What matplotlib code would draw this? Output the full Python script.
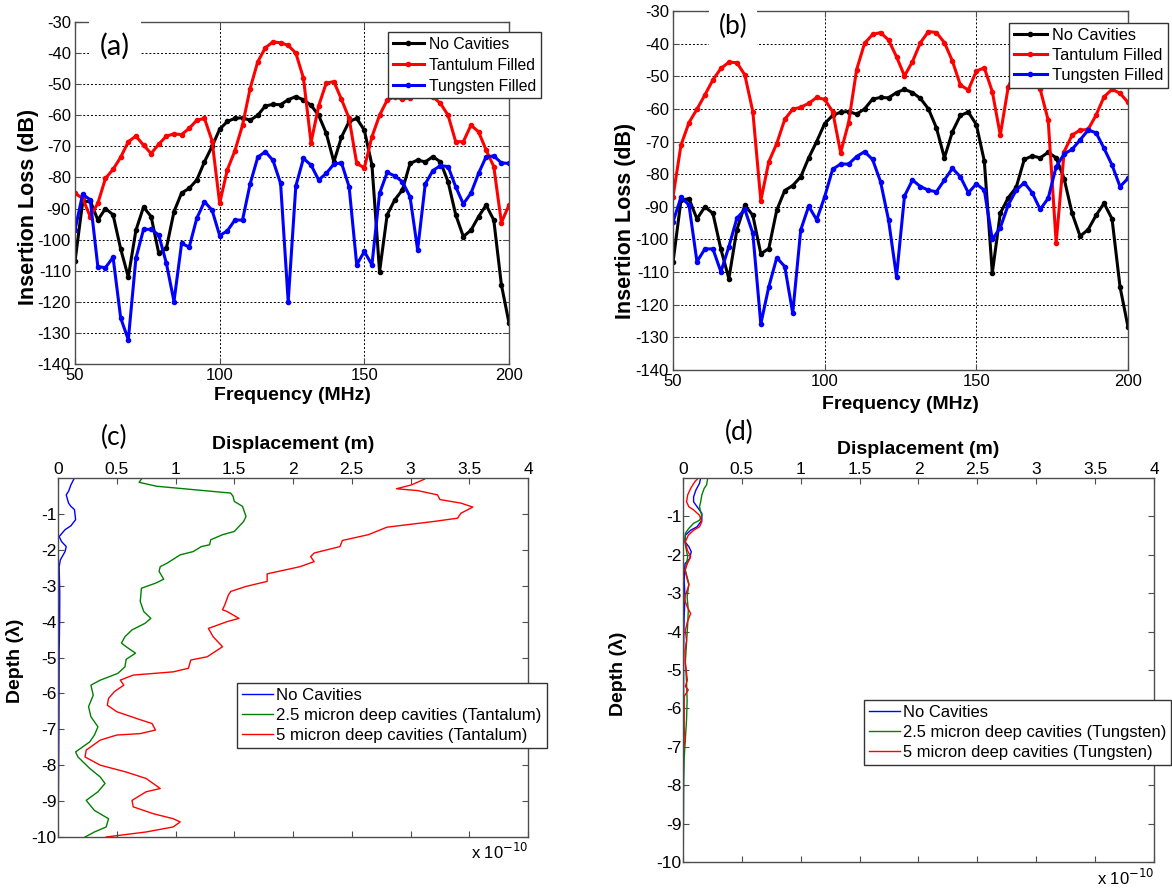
import numpy as np
import matplotlib
matplotlib.use('Agg')
import matplotlib.pyplot as plt

plt.rcParams['font.family'] = ['Liberation Sans', 'DejaVu Sans']
plt.rcParams['axes.unicode_minus'] = False

# Frequency sweep, 50-200 MHz, 58 points
freq = np.linspace(50, 200, 58)

# insertion loss (dB) - no cavities (same in both top panels)
loss_none = [-107, -88, -87.5, -93.7, -90, -92, -103, -112, -97, -89.5,
             -92.6, -104.4, -102.8, -91, -85, -83.5, -80.8, -75, -70, -64.5,
             -62, -61, -60.8, -61.6, -60, -57, -56.5, -56.6, -55, -54,
             -55, -56.8, -60, -65.8, -75, -67, -62, -61, -64.8, -76,
             -110.3, -92, -87.2, -84, -75.5, -74.4, -75, -73.3, -75, -81.4,
             -92, -99, -97, -92.6, -88.9, -93.7, -114.5, -126.8]

# (a) tantalum / tungsten filled
loss_ta_a = [-85.1, -86.7, -92.6, -88.3, -80.3, -77.4, -73.5, -68.5, -66.7, -69.6,
             -72.3, -69.3, -66.7, -66, -66.2, -64.2, -61.6, -61, -68.2, -88.3,
             -77.6, -71.4, -63.2, -51.4, -42.8, -38.3, -36.4, -36.7, -37.5, -40,
             -48, -68.8, -57, -49.6, -49.2, -54.9, -61, -75.5, -76.9, -66.9,
             -60, -55.1, -54.1, -54.8, -54.4, -52, -52, -54, -56.2, -60,
             -68.5, -68.5, -63.2, -65.3, -71.2, -76.5, -94.5, -88.9]
loss_w_a = [-96.9, -85.4, -87.2, -108.7, -109, -105.7, -125.2, -132.2, -106, -96.7,
            -96.7, -98.5, -107.6, -119.9, -101.2, -102.4, -93.1, -87.8, -90.5, -98.7,
            -97.2, -93.7, -93.7, -82.1, -73.5, -71.7, -74.5, -81.9, -119.9, -82.8,
            -73.9, -76, -80.8, -78.7, -75.7, -75.3, -83, -108.1, -103.8, -108.1,
            -85.1, -78.4, -79.5, -81.4, -86.2, -103.3, -82.1, -77.8, -76.2, -76.5,
            -83, -88.5, -85.1, -78.7, -73.3, -73.1, -75.3, -75.5]

# (b) tantalum / tungsten filled
loss_ta_b = [-86.9, -71.1, -64.2, -60.1, -55.7, -51.1, -47.6, -45.7, -45.8, -49.6,
             -60.8, -88.1, -76.2, -70.6, -63.2, -60.1, -59.5, -58.3, -56.5, -57.1,
             -60.8, -73.4, -64.2, -48, -39.9, -37.2, -36.6, -38.9, -44, -49.9,
             -45.5, -39.7, -36.3, -36.6, -39.7, -45.3, -52.7, -54.2, -48.4, -47.4,
             -54.7, -68, -53.2, -48, -46, -47, -54, -63.4, -101, -73.1,
             -68, -66.5, -66.3, -61.9, -56.3, -54, -55.2, -58]
loss_w_b = [-94.6, -87.1, -89.4, -106.8, -102.9, -102.9, -109.9, -102.2, -93.5, -90.8,
            -98.1, -125.9, -114.5, -105.6, -108.3, -122.6, -97.1, -89.8, -94, -86.9,
            -78.5, -76.9, -76.9, -74.6, -73.1, -75.5, -82.3, -94, -111.4, -86.7,
            -81.8, -83.8, -84.9, -85.4, -81.8, -78.2, -80.8, -85.7, -83, -84.9,
            -100, -96.4, -89.4, -84.9, -82.6, -85.7, -90.8, -87.4, -77.7, -73.8,
            -72.4, -69.5, -66.5, -67.3, -72.1, -77.2, -83.8, -81.3]

# (c) displacement (x1e-10 m) vs depth (wavelengths), tantalum
c_none_depth = [0, -0.19, -0.37, -0.47, -0.70, -0.79, -0.88, -1.16, -1.33, -1.44,
                -1.63, -1.77, -1.91, -2.05, -2.28, -2.47, -3.2, -3.95, -4.8, -5.8,
                -6.7, -7.67, -8.6, -10]
c_none_disp = [0.14, 0.11, 0.09, 0.07, 0.09, 0.11, 0.14, 0.15, 0.11, 0.06,
               0.01, 0.03, 0.07, 0.06, 0.02, 0.01, 0.015, 0.014, 0.01, 0.009,
               0.008, 0.006, 0.004, 0.0]
c_25_depth = [-0.03, -0.12, -0.23, -0.42, -0.51, -0.65, -0.79, -1.07, -1.21, -1.35,
              -1.49, -1.58, -1.72, -1.86, -1.91, -2.05, -2.14, -2.37, -2.47, -2.60,
              -2.82, -2.93, -3.07, -3.44, -3.72, -3.91, -4.05, -4.23, -4.42, -4.60,
              -4.70, -4.88, -5.05, -5.26, -5.44, -5.53, -5.63, -5.77, -6.05, -6.37,
              -6.65, -6.93, -7.16, -7.35, -7.49, -7.63, -7.77, -8.09, -8.33, -8.51,
              -8.74, -8.98, -9.26, -9.49, -9.72, -9.86, -10.0]
c_25_disp = [0.71, 0.69, 0.84, 1.47, 1.49, 1.50, 1.57, 1.60, 1.58, 1.54,
             1.50, 1.40, 1.30, 1.29, 1.22, 1.15, 1.04, 0.93, 0.87, 0.86,
             0.90, 0.83, 0.71, 0.70, 0.73, 0.79, 0.74, 0.63, 0.57, 0.54,
             0.58, 0.66, 0.58, 0.57, 0.51, 0.44, 0.36, 0.28, 0.30, 0.26,
             0.28, 0.34, 0.31, 0.27, 0.21, 0.15, 0.17, 0.27, 0.36, 0.40,
             0.34, 0.24, 0.31, 0.43, 0.41, 0.31, 0.23]
c_5_depth = [-0.03, -0.19, -0.30, -0.35, -0.47, -0.60, -0.70, -0.81, -0.98, -1.12,
             -1.21, -1.37, -1.58, -1.74, -1.91, -2.09, -2.19, -2.33, -2.47, -2.67,
             -2.88, -3.02, -3.16, -3.26, -3.53, -3.67, -3.72, -3.91, -4.00, -4.19,
             -4.42, -4.70, -4.98, -5.07, -5.30, -5.40, -5.49, -5.63, -5.77, -5.95,
             -6.14, -6.33, -6.51, -6.70, -6.84, -7.02, -7.12, -7.16, -7.30, -7.58,
             -7.77, -8.00, -8.19, -8.37, -8.65, -8.74, -8.98, -9.16, -9.35, -9.49,
             -9.58, -9.72, -9.86, -10.0]
c_5_disp = [3.12, 3.01, 2.88, 3.06, 3.23, 3.25, 3.43, 3.53, 3.43, 3.40,
            3.20, 2.80, 2.64, 2.42, 2.40, 2.18, 2.15, 2.18, 2.06, 1.78,
            1.78, 1.60, 1.47, 1.45, 1.42, 1.40, 1.44, 1.54, 1.44, 1.28,
            1.32, 1.40, 1.27, 1.13, 1.11, 0.98, 0.64, 0.53, 0.56, 0.48,
            0.43, 0.42, 0.50, 0.67, 0.80, 0.83, 0.70, 0.50, 0.36, 0.24,
            0.23, 0.36, 0.58, 0.75, 0.87, 0.75, 0.63, 0.64, 0.81, 0.98,
            1.04, 0.98, 0.75, 0.41]

# (d) displacement vs depth, tungsten
d_none_depth = [0, -0.14, -0.31, -0.49, -0.62, -0.75, -0.92, -1.10, -1.27, -1.36,
                -1.49, -1.66, -1.79, -1.92, -2.10, -2.23, -2.66, -3.10, -3.60, -4.50,
                -6.00, -9.00, -10]
d_none_disp = [0.15, 0.14, 0.11, 0.09, 0.09, 0.12, 0.16, 0.16, 0.12, 0.065,
               0.02, 0.017, 0.05, 0.07, 0.057, 0.017, 0.01, 0.017, 0.01, 0.005,
               0.005, 0.003, 0.0]
d_25_depth = [0, -0.18, -0.27, -0.44, -0.62, -0.75, -0.88, -0.97, -1.10, -1.18,
              -1.31, -1.44, -1.70, -2.05, -2.40, -2.75, -3.10, -3.44, -3.80, -4.30,
              -4.80, -5.30, -5.80, -6.30, -6.80, -7.30, -8.00, -10]
d_25_disp = [0.21, 0.20, 0.18, 0.16, 0.15, 0.14, 0.15, 0.16, 0.14, 0.09,
             0.05, 0.02, 0.017, 0.04, 0.02, 0.05, 0.035, 0.045, 0.04, 0.03,
             0.02, 0.03, 0.035, 0.03, 0.02, 0.01, 0.005, 0.002]
d_5_depth = [0, -0.10, -0.27, -0.44, -0.62, -0.75, -0.83, -0.97, -1.14, -1.27,
             -1.36, -1.49, -1.66, -1.88, -2.05, -2.23, -2.40, -2.57, -2.79, -2.97,
             -3.14, -3.36, -3.53, -3.75, -3.97, -4.23, -4.49, -4.83, -5.26, -5.43,
             -5.52, -5.69, -6.47, -6.82, -7.16, -10]
d_5_disp = [0.13, 0.10, 0.065, 0.04, 0.03, 0.05, 0.09, 0.14, 0.16, 0.14,
            0.09, 0.045, 0.02, 0.037, 0.065, 0.037, 0.017, 0.03, 0.05, 0.03,
            0.01, 0.037, 0.065, 0.037, 0.02, 0.03, 0.017, 0.02, 0.037, 0.02,
            0.045, 0.01, 0.01, 0.017, 0.0, 0.0]

W, H = 1172, 888
fig = plt.figure(figsize=(W / 100, H / 100), dpi=100)


def add_axes_px(left, top, right, bottom):
    return fig.add_axes([left / W, 1 - bottom / H, (right - left) / W, (bottom - top) / H])


def style_box(ax, size):
    for s in ax.spines.values():
        s.set_color('0.3')
        s.set_linewidth(1.0)
    ax.tick_params(direction='in', top=True, right=True, length=4, width=0.8,
                   color='0.3', labelsize=size, pad=3)


def loss_panel(ax, red, blue, xlab_y, ylab_pos):
    ax.plot(freq, loss_none, '-o', color='k', lw=2.2, ms=3, label='No Cavities')
    ax.plot(freq, red, '-o', color='#ff0000', lw=2.2, ms=3, label='Tantulum Filled')
    ax.plot(freq, blue, '-o', color='#0000ff', lw=2.2, ms=3, label='Tungsten Filled')
    ax.set_xlim(50, 200)
    ax.set_ylim(-140, -30)
    ax.set_xticks([50, 100, 150, 200])
    ax.set_yticks(np.arange(-140, -29, 10))
    ax.grid(True, linestyle=(0, (2, 2)), color='k', linewidth=0.7)
    style_box(ax, 12)
    ax.set_xlabel('Frequency (MHz)', fontsize=14, fontweight='bold', va='center')
    ax.xaxis.set_label_coords(0.5, xlab_y)
    ax.set_ylabel('Insertion Loss (dB)', fontsize=15.5, fontweight='bold', va='center')
    ax.yaxis.set_label_coords(*ylab_pos)


def depth_panel(ax, series, xlab_y, ylab_x, note_y):
    colors = ['#0000ff', '#008000', '#ff0000']
    for (dep, disp, lab), c in zip(series, colors):
        ax.plot(disp, dep, color=c, lw=1.0, label=lab)
    ax.set_xlim(0, 4)
    ax.set_ylim(-10, 0)
    ax.set_xticks(np.arange(0, 4.01, 0.5))
    ax.set_xticklabels(['0', '0.5', '1', '1.5', '2', '2.5', '3', '3.5', '4'])
    ax.set_yticks(np.arange(-10, 0, 1))
    style_box(ax, 12.5)
    ax.tick_params(labeltop=True, labelbottom=False, pad=1)
    ax.xaxis.set_label_position('top')
    ax.set_xlabel('Displacement (m)', fontsize=14, fontweight='bold', va='center')
    ax.xaxis.set_label_coords(0.5, xlab_y)
    ax.set_ylabel('Depth (λ)', fontsize=14, fontweight='bold', va='center')
    ax.yaxis.set_label_coords(ylab_x, 0.49)
    ax.text(1.0, note_y, r'x 10$^{-10}$', transform=ax.transAxes,
            ha='right', va='top', fontsize=12)


legend_style = dict(bbox_transform=fig.transFigure, loc='upper left', borderaxespad=0,
                    fancybox=False, framealpha=1, edgecolor='0.2')

# top row: insertion loss
ax_a = add_axes_px(75, 22, 509, 364)
loss_panel(ax_a, loss_ta_a, loss_w_a, -0.091, (-0.108, 0.46))
ax_a.legend(bbox_to_anchor=(388 / W, 1 - 32 / H), fontsize=11.3, handlelength=2.0,
            borderpad=0.3, labelspacing=0.38, handletextpad=0.3, **legend_style)

ax_b = add_axes_px(673, 11, 1128, 370)
loss_panel(ax_b, loss_ta_b, loss_w_b, -0.095, (-0.105, 0.415))
ax_b.legend(bbox_to_anchor=(1009 / W, 1 - 23 / H), fontsize=11.8, handlelength=2.0,
            borderpad=0.3, labelspacing=0.3, handletextpad=0.3, **legend_style)

# bottom row: displacement profiles
ax_c = add_axes_px(58, 478, 528, 837)
depth_panel(ax_c, [(c_none_depth, c_none_disp, 'No Cavities'),
                   (c_25_depth, c_25_disp, '2.5 micron deep cavities (Tantalum)'),
                   (c_5_depth, c_5_disp, '5 micron deep cavities (Tantalum)')],
            1.092, -0.091, -0.015)
ax_c.legend(bbox_to_anchor=(237 / W, 1 - 683 / H), fontsize=12.1, handlelength=1.85,
            borderpad=0.3, labelspacing=0.3, handletextpad=0.2, **legend_style)

ax_d = add_axes_px(683, 478, 1154, 862)
depth_panel(ax_d, [(d_none_depth, d_none_disp, 'No Cavities'),
                   (d_25_depth, d_25_disp, '2.5 micron deep cavities (Tungsten)'),
                   (d_5_depth, d_5_disp, '5 micron deep cavities (Tungsten)')],
            1.073, -0.138, -0.015)
ax_d.legend(bbox_to_anchor=(864 / W, 1 - 700 / H), fontsize=11.9, handlelength=1.85,
            borderpad=0.3, labelspacing=0.3, handletextpad=0.2, **legend_style)

# panel letters
letter = dict(ha='center', va='center', family=['Lato', 'DejaVu Sans'], zorder=10)
fig.text(115 / W, 1 - 46 / H, '(a)', fontsize=21,
         bbox=dict(facecolor='white', edgecolor='none', pad=8), **letter)
fig.text(733 / W, 1 - 26 / H, '(b)', fontsize=19,
         bbox=dict(facecolor='white', edgecolor='none', pad=7), **letter)
fig.text(114 / W, 1 - 437 / H, '(c)', fontsize=19, **letter)
fig.text(739 / W, 1 - 432 / H, '(d)', fontsize=19, **letter)

fig.savefig('out.png', dpi=100)
